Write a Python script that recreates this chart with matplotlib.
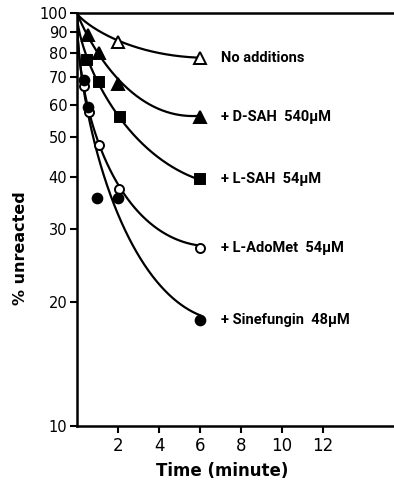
import numpy as np
import matplotlib

matplotlib.use("Agg")
import matplotlib.pyplot as plt

# measured points (time in minutes, % unreacted)
none_x = [2.0, 6.0]
none_y = [85.1, 77.8]
dsah_x = [0.54, 1.07, 2.0, 6.0]
dsah_y = [88.4, 80.0, 67.3, 56.0]
lsah_x = [0.49, 1.07, 2.1, 6.0]
lsah_y = [76.9, 68.0, 56.0, 39.6]
adomet_x = [0.34, 0.59, 1.07, 2.05, 6.0]
adomet_y = [66.6, 57.6, 47.9, 37.5, 27.0]
sine_x = [0.34, 0.54, 0.98, 2.0, 6.0]
sine_y = [68.8, 59.2, 35.6, 35.6, 18.1]

# hand-drawn fit curves at a few times
none_cx = [0, 0.9, 2, 4, 6]
none_cy = [100, 92.0, 85.1, 80.5, 77.8]
dsah_cx = [0, 0.54, 1.07, 2, 4, 6]
dsah_cy = [100, 88.4, 80.0, 67.3, 59.8, 56.0]
lsah_cx = [0, 0.49, 1.07, 2.1, 4, 6]
lsah_cy = [100, 77.0, 68.0, 56.0, 44.1, 39.6]
adomet_cx = [0, 0.34, 0.59, 1.07, 2.05, 3.15, 4.78, 6]
adomet_cy = [100, 66.6, 57.6, 47.9, 37.5, 32.5, 29.0, 27.0]
sine_cx = [0, 0.34, 0.54, 0.80, 1.04, 1.53, 2.34, 3.48, 4.78, 6]
sine_cy = [100, 68.8, 59.2, 47.9, 43.3, 35.9, 29.8, 24.8, 20.6, 18.1]

labels = [
    "No additions",
    "+ D-SAH  540μM",
    "+ L-SAH  54μM",
    "+ L-AdoMet  54μM",
    "+ Sinefungin  48μM",
]
y_ticks = [10, 20, 30, 40, 50, 60, 70, 80, 90, 100]
x_ticks = [2, 4, 6, 8, 10, 12]


def _smooth(cx, cy, xs):
    """Least-squares cubic in sqrt(t) through log(y), pinned at 100 % for t=0."""
    u = np.sqrt(np.asarray(cx, float))
    basis = np.column_stack([u, u**2, u**3])
    coef, *_ = np.linalg.lstsq(basis, np.log10(cy) - 2.0, rcond=None)
    us = np.sqrt(xs)
    return 10 ** (2.0 + np.column_stack([us, us**2, us**3]) @ coef)


fig = plt.figure(figsize=(3.94, 4.83), dpi=100)
ax = fig.add_axes([0.1954, 0.118, 0.8046, 0.855])

series = [
    (none_x, none_y, none_cx, none_cy, "^", "white", 9),
    (dsah_x, dsah_y, dsah_cx, dsah_cy, "^", "black", 8.5),
    (lsah_x, lsah_y, lsah_cx, lsah_cy, "s", "black", 6.5),
    (adomet_x, adomet_y, adomet_cx, adomet_cy, "o", "white", 6.5),
    (sine_x, sine_y, sine_cx, sine_cy, "o", "black", 7),
]

for (px, py, cx, cy, mk, fc, ms), lab in zip(series, labels):
    xs = np.linspace(0, cx[-1], 400)
    ax.plot(xs, _smooth(cx, cy, xs), color="black", lw=1.6, zorder=2)
    ax.plot(px, py, ls="none", marker=mk, ms=ms, mfc=fc, mec="black", mew=1.4,
            zorder=3, clip_on=False)
    ax.text(7.0, py[-1], lab, fontsize=10.5, fontweight="bold", family="Roboto",
            va="center", ha="left")

ax.set_yscale("log")
ax.set_ylim(10, 100)
ax.set_xlim(0, 15.46)
ax.set_yticks(y_ticks)
ax.set_yticklabels([str(v) for v in y_ticks])
ax.yaxis.set_minor_locator(matplotlib.ticker.NullLocator())
ax.set_xticks(x_ticks)
ax.tick_params(axis="both", direction="out", length=5, width=1.5, pad=2)
ax.tick_params(axis="y", labelsize=10.5)
ax.tick_params(axis="x", labelsize=12, pad=3)

for side in ("left", "top", "bottom"):
    ax.spines[side].set_linewidth(1.8)
ax.spines["right"].set_visible(False)

ax.set_xlabel("Time (minute)", fontsize=12, fontweight="bold")
ax.xaxis.set_label_coords(0.457, -0.088)
ax.set_ylabel("% unreacted", fontsize=11.5, fontweight="bold")
ax.yaxis.set_label_coords(-0.155, 0.43)

fig.savefig("out.png", dpi=100)
plt.close(fig)
